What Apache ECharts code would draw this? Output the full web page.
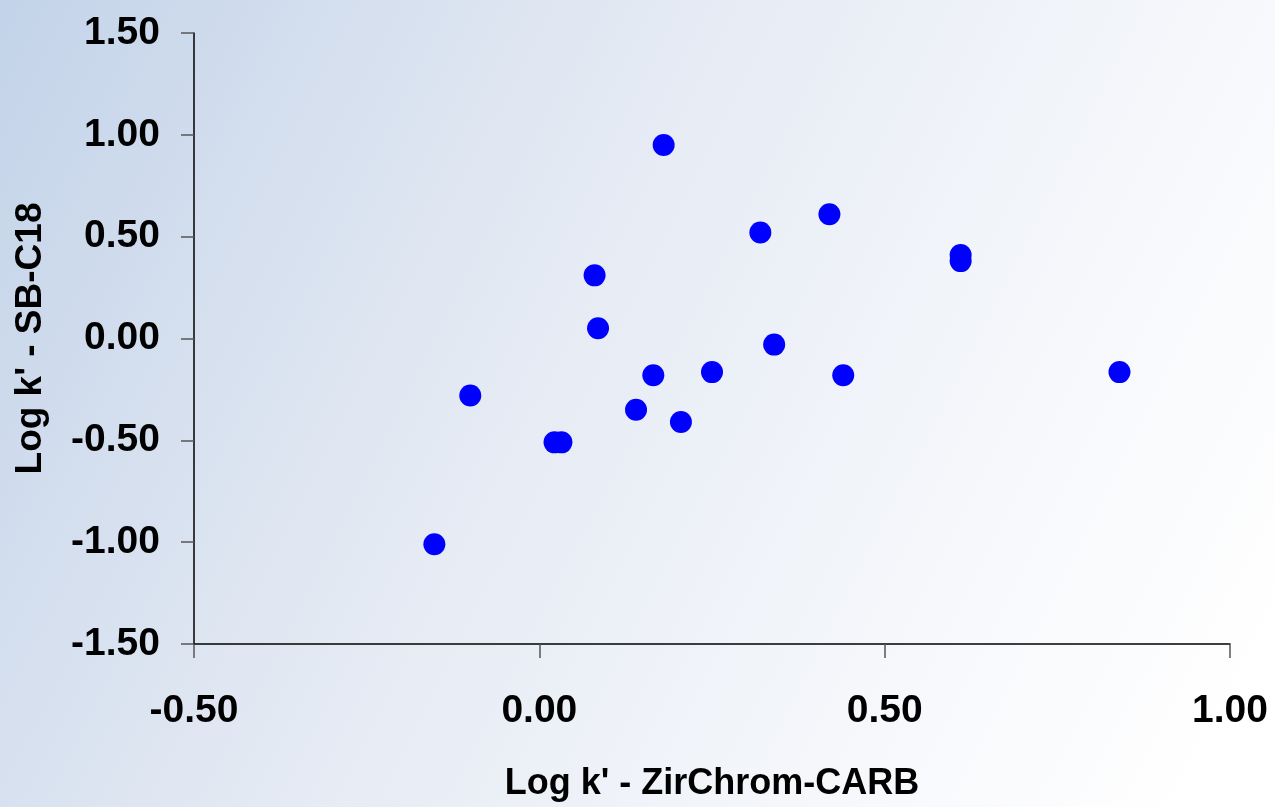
<!DOCTYPE html>
<html>
<head>
<meta charset="utf-8">
<script src="https://cdn.jsdelivr.net/npm/echarts@6/dist/echarts.min.js"></script>
<style>
  html, body { margin: 0; padding: 0; }
  #chart { width: 1275px; height: 807px; }
</style>
</head>
<body>
<div id="chart"></div>
<script>
// log k' values
var xVals = [0.18, 0.42, 0.32, 0.61, 0.61, 0.08, 0.085, 0.34, -0.10, 0.165, 0.25, 0.44, 0.84, 0.14, 0.205, 0.022, 0.032, -0.152];
var yVals = [0.95, 0.61, 0.52, 0.41, 0.38, 0.31, 0.05, -0.03, -0.28, -0.18, -0.165, -0.18, -0.165, -0.35, -0.41, -0.51, -0.51, -1.01];
var xTicks = [-0.5, 0, 0.5, 1.0];
var yTicks = [-1.5, -1.0, -0.5, 0, 0.5, 1.0, 1.5];

var points = xVals.map(function (x, i) {
  return [x, yVals[i]];
});

var chart = echarts.init(document.getElementById("chart"));
var fontFamily = "'Liberation Sans', Arial, sans-serif";

var option = {
  backgroundColor: new echarts.graphic.LinearGradient(0, 0, 1, 0.8, [
    { offset: 0, color: "#c3d3e9" },
    { offset: 0.4, color: "#e3e9f3" },
    { offset: 0.75, color: "#f5f7fb" },
    { offset: 1, color: "#ffffff" },
  ]),
  grid: {
    left: 194,
    right: 45,
    top: 33,
    bottom: 161,
    containLabel: false,
  },
  xAxis: {
    type: "value",
    min: xTicks[0],
    max: xTicks[xTicks.length - 1],
    interval: 0.5,
    name: "Log k' - ZirChrom-CARB",
    nameLocation: "middle",
    nameGap: 122,
    nameTextStyle: {
      color: "#000",
      fontSize: 36,
      fontWeight: "bold",
      fontFamily: fontFamily,
    },
    splitLine: { show: false },
    axisLine: { onZero: false, lineStyle: { color: "#000", width: 1.5 } },
    axisTick: { length: 14, lineStyle: { color: "#555", width: 1.5 } },
    axisLabel: {
      margin: 48,
      color: "#000",
      fontSize: 39,
      fontWeight: "bold",
      fontFamily: fontFamily,
      formatter: function (v) {
        return v.toFixed(2);
      },
    },
  },
  yAxis: {
    type: "value",
    min: yTicks[0],
    max: yTicks[yTicks.length - 1],
    interval: 0.5,
    name: "Log k' - SB-C18",
    nameLocation: "middle",
    nameRotate: 90,
    nameGap: 145,
    nameTextStyle: {
      color: "#000",
      fontSize: 37,
      fontWeight: "bold",
      fontFamily: fontFamily,
    },
    splitLine: { show: false },
    axisLine: { onZero: false, lineStyle: { color: "#000", width: 1.5 } },
    axisTick: { length: 13, lineStyle: { color: "#555", width: 1.5 } },
    axisLabel: {
      margin: 34,
      color: "#000",
      fontSize: 39,
      fontWeight: "bold",
      fontFamily: fontFamily,
      formatter: function (v) {
        return v.toFixed(2);
      },
    },
  },
  series: [
    {
      type: "scatter",
      data: points,
      symbol: "circle",
      symbolSize: 22,
      itemStyle: { color: "#0000ff", opacity: 1 },
      animation: false,
    },
  ],
};

chart.setOption(option);
</script>
</body>
</html>
